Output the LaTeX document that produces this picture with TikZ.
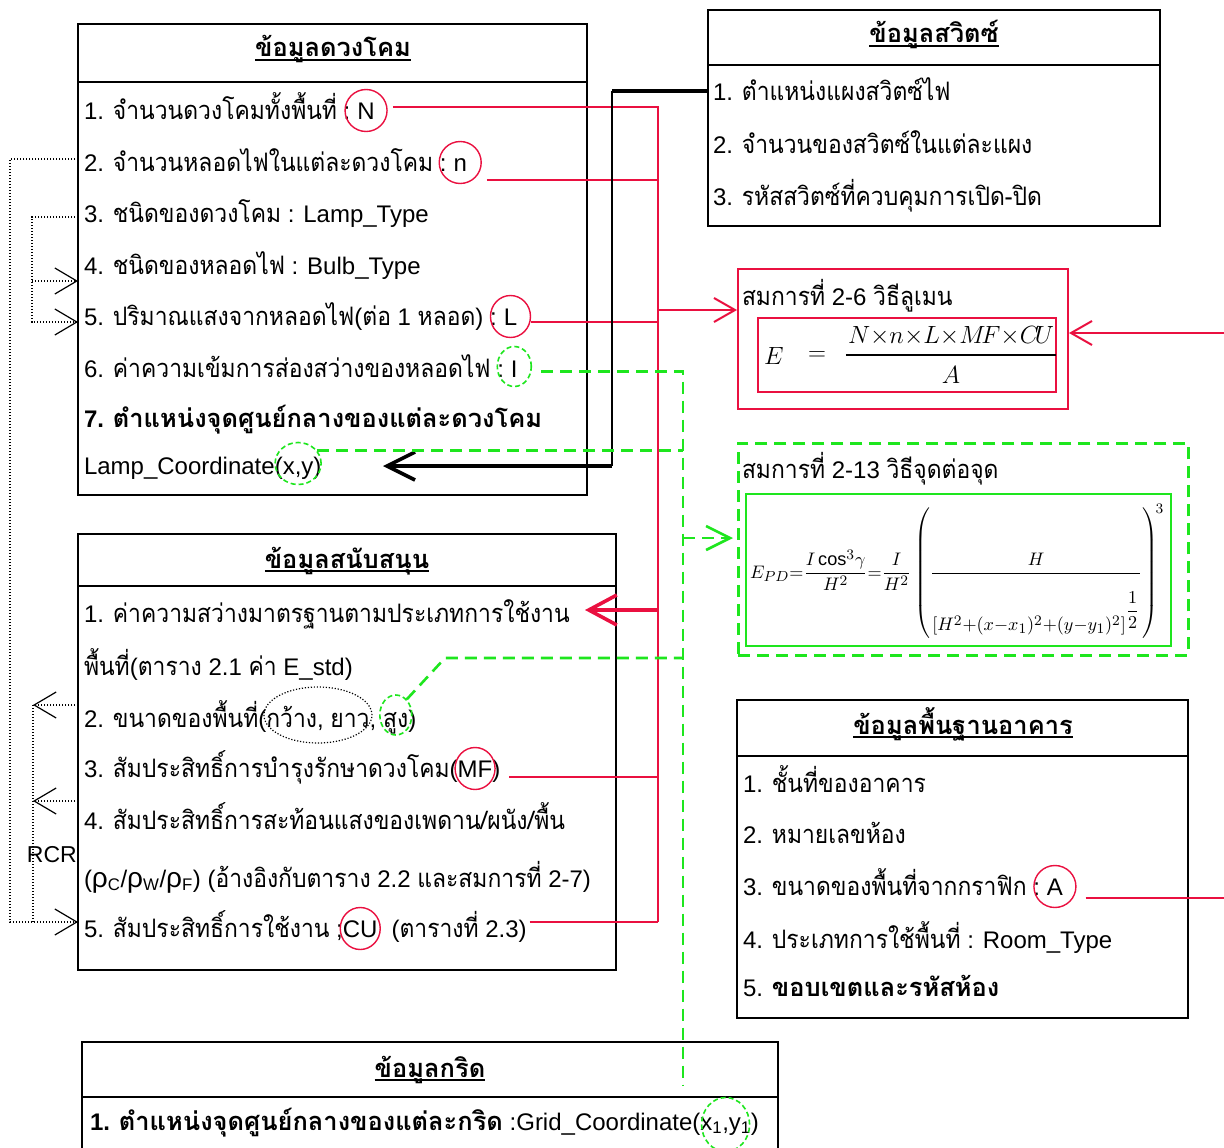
\documentclass[tikz,border=0pt]{standalone}
\usepackage{fontspec}
\usepackage{amsmath}
\usepackage{graphicx}
\setmainfont{Liberation Sans}
\newfontfamily\thaifont[Script=Thai, Scale=1.06, FakeStretch=0.9, BoldFeatures={FakeStretch=1.0}]{Loma}
\newcommand\tx[1]{{\thaifont #1}}
\DeclareMathSizes{10}{10}{8.5}{6.5}
\usetikzlibrary{arrows.meta,shapes.geometric,calc}
\definecolor{rc}{RGB}{234,16,64}
\definecolor{gc}{RGB}{30,230,30}
\tikzset{
  boxn/.style={draw=black, line width=2pt, anchor=north west, inner sep=0pt, outer sep=0pt},
  txt/.style={inner sep=0pt, outer sep=0pt, anchor=base west, font=\fontsize{24}{28}\selectfont},
  ttl/.style={inner sep=0pt, outer sep=0pt, anchor=base, font=\fontsize{24}{28}\selectfont\bfseries},
  var/.style={txt, text height=17pt, text depth=0pt},
  rcirc/.style={draw=rc, line width=1.4pt, ellipse, inner sep=0pt},
  gcirc/.style={draw=gc, line width=1.6pt, ellipse, inner sep=0pt, dash pattern=on 5pt off 3pt},
  kcirc/.style={draw=black, line width=1.2pt, ellipse, inner sep=0pt, dash pattern=on 1.2pt off 1.8pt},
  redl/.style={draw=rc, line width=2pt},
  grnl/.style={draw=gc, line width=2.6pt, dash pattern=on 12pt off 7pt},
  dotl/.style={draw=black, line width=1.2pt, dash pattern=on 1.2pt off 1.8pt},
  barbA/.style={-{Straight Barb[length=22pt,width=26pt]}},
  uline/.style={line width=1.4pt},
  hdr/.style={line width=2pt},
}
\begin{document}
\begin{tikzpicture}[x=1pt,y=-1pt]
\useasboundingbox (0,0) rectangle (1224,1148);
\fill[white] (0,0) rectangle (1224,1148);

% ---------------- Lamp box
\node[boxn, minimum width=509pt, minimum height=471pt] (lamp) at (78,24) {};
\draw[hdr] ($(lamp.north west)+(0,58)$) -- ($(lamp.north east)+(0,58)$);
\node[ttl] (lampT) at (333,57) {\tx{ข้อมูลดวงโคม}};
\draw[uline] ($(lampT.base west)+(0,3)$) -- ($(lampT.base east)+(0,3)$);
\node[txt] (l1) at (84,119) {1. \tx{จำนวนดวงโคมทั้งพื้นที่} :};
\node[var] (vN) at ($(l1.base east)+(7,0)$) {N};
\node[rcirc, minimum width=42pt, minimum height=42pt] (cN) at (vN.center) {};
\node[txt] (l2) at (84,171) {2. \tx{จำนวนหลอดไฟในแต่ละดวงโคม} :};
\node[var] (vn) at ($(l2.base east)+(7,0)$) {n};
\node[rcirc, minimum width=42pt, minimum height=42pt] (cn) at (vn.center) {};
\node[txt] (l3) at (84,222) {3. \tx{ชนิดของดวงโคม} : Lamp\_Type};
\node[txt] (l4) at (84,274) {4. \tx{ชนิดของหลอดไฟ} : Bulb\_Type};
\node[txt] (l5) at (84,325) {5. \tx{ปริมาณแสงจากหลอดไฟ}(\tx{ต่อ} 1 \tx{หลอด}) :};
\node[var] (vL) at ($(l5.base east)+(7,0)$) {L};
\node[rcirc, minimum width=40pt, minimum height=42pt] (cL) at (vL.center) {};
\node[txt] (l6) at (84,377) {6. \tx{ค่าความเข้มการส่องสว่างของหลอดไฟ} :};
\node[var] (vI) at ($(l6.base east)+(7,0)$) {I};
\node[gcirc, minimum width=34pt, minimum height=40pt] (cI) at ($(vI.center)+(0,-2)$) {};
\node[txt] (l7) at (84,427) {\bfseries 7. \tx{ตำแหน่งจุดศูนย์กลางของแต่ละดวงโคม}};
\node[txt] (l8a) at (84,474) {Lamp\_Coordinate(};
\node[var] (vxy) at (l8a.base east) {x,y};
\node[txt] (l8c) at (vxy.base east) {)};
\node[gcirc, minimum width=46pt, minimum height=42pt] (cxy) at ($(vxy.center)+(0,-2)$) {};

% ---------------- Switch box
\node[boxn, minimum width=452pt, minimum height=216pt] (sw) at (708,10) {};
\draw[hdr] ($(sw.north west)+(0,55)$) -- ($(sw.north east)+(0,55)$);
\node[ttl] (swT) at (934,43) {\tx{ข้อมูลสวิตซ์}};
\draw[uline] ($(swT.base west)+(0,3)$) -- ($(swT.base east)+(0,3)$);
\node[txt] (w1) at (713,100) {1. \tx{ตำแหน่งแผงสวิตซ์ไฟ}};
\node[txt] (w2) at (713,153) {2. \tx{จำนวนของสวิตซ์ในแต่ละแผง}};
\node[txt] (w3) at (713,205) {3. \tx{รหัสสวิตซ์ที่ควบคุมการเปิด-ปิด}};

% ---------------- Lumen method
\node[draw=rc, line width=2pt, anchor=north west, inner sep=0pt, minimum width=330pt, minimum height=140pt] (lum) at (737,268) {};
\node[txt] (lumT) at (742,305) {\tx{สมการที่} 2-6 \tx{วิธีลูเมน}};
\node[draw=rc, line width=2pt, anchor=north west, inner sep=0pt, minimum width=298pt, minimum height=74pt] (lumI) at (757,317) {};
\node[inner sep=0pt, anchor=base west] (eqE) at (764,364) {\fontsize{29}{29}\selectfont$E$};
\node[inner sep=0pt] (eqEq) at (817,356) {\fontsize{28}{28}\selectfont$=$};
\node[inner sep=0pt, anchor=base] (eqN) at (951,343) {\fontsize{25}{25}\selectfont$N{\times}n{\times}L{\times}M\!F{\times}C\!U$};
\draw[line width=1.3pt] ($(eqN.base west)+(-2,12)$) -- ($(eqN.base east)+(2,12)$);
\node[inner sep=0pt, anchor=base] (eqA) at (951,383) {\fontsize{26}{26}\selectfont$A$};

% ---------------- Point-to-point method
\node[draw=gc, line width=2.6pt, dash pattern=on 12pt off 7pt, anchor=north west, inner sep=0pt, minimum width=450pt, minimum height=212pt] (ptp) at (737,442) {};
\node[txt] (ptpT) at (742,478) {\tx{สมการที่} 2-13 \tx{วิธีจุดต่อจุด}};
\node[draw=gc, line width=2.4pt, anchor=north west, inner sep=0pt, minimum width=425pt, minimum height=152pt] (ptpI) at (745,493) {};
\node[inner sep=0pt, anchor=base west] (eqP) at (750,578) {\resizebox{414pt}{!}{$\displaystyle E_{PD}{=}\frac{I\cos^3\!\gamma}{H^2}{=}\frac{I}{H^2}\left(\rule[-33.5pt]{0pt}{72pt}\frac{H}{\rule{0pt}{30pt}[H^2{+}(x{-}x_1)^2{+}(y{-}y_1)^2]^{\dfrac{1}{2}}}\right)^{\!3}$}};

% ---------------- Support box
\node[boxn, minimum width=538pt, minimum height=436pt] (sup) at (78,534) {};
\draw[hdr] ($(sup.north west)+(0,52)$) -- ($(sup.north east)+(0,52)$);
\node[ttl] (supT) at (347,568) {\tx{ข้อมูลสนับสนุน}};
\draw[uline] ($(supT.base west)+(0,3)$) -- ($(supT.base east)+(0,3)$);
\node[txt] (s1) at (84,622) {1. \tx{ค่าความสว่างมาตรฐานตามประเภทการใช้งาน}};
\node[txt] (s1b) at (84,675) {\tx{พื้นที่}(\tx{ตาราง} 2.1 \tx{ค่า} E\_std)};
\node[txt] (s2a) at (84,727) {2. \tx{ขนาดของพื้นที่}(};
\node[txt] (s2b) at (s2a.base east) {\tx{กว้าง}, \tx{ยาว}};
\node[txt] (s2c) at (s2b.base east) {,};
\node[txt] (s2d) at ($(s2c.base east)+(7,0)$) {\tx{สูง}};
\node[txt] (s2e) at (s2d.base east) {)};
\node[kcirc, minimum width=108pt, minimum height=56pt] (cWL) at ($(s2b.base)+(0,-12)$) {};
\node[gcirc, minimum width=32pt, minimum height=40pt] (cS) at ($(s2d.base)+(0,-12)$) {};
\node[txt] (s3a) at (84,777) {3. \tx{สัมประสิทธิ์การบำรุงรักษาดวงโคม}(};
\node[var] (vMF) at (s3a.base east) {MF};
\node[txt] (s3c) at (vMF.base east) {)};
\node[rcirc, minimum width=40pt, minimum height=42pt] (cMF) at (vMF.center) {};
\node[txt] (s4) at (84,829) {4. \tx{สัมประสิทธิ์การสะท้อนแสงของเพดาน/ผนัง/พื้น}};
\node[txt] (s4b) at (84,887) {({\fontsize{28}{28}\selectfont ρ}\textsubscript{C}/{\fontsize{28}{28}\selectfont ρ}\textsubscript{W}/{\fontsize{28}{28}\selectfont ρ}\textsubscript{F}) (\tx{อ้างอิงกับตาราง} 2.2 \tx{และสมการที่} 2-7)};
\node[txt] (s5a) at (84,937) {5. \tx{สัมประสิทธิ์การใช้งาน} ;};
\node[var] (vCU) at (s5a.base east) {CU};
\node[rcirc, minimum width=40pt, minimum height=42pt] (cCU) at (vCU.center) {};
\node[txt] (s5c) at ($(vCU.base east)+(14,0)$) {(\tx{ตารางที่} 2.3)};

% ---------------- Building box
\node[boxn, minimum width=451pt, minimum height=318pt] (bld) at (737,700) {};
\draw[hdr] ($(bld.north west)+(0,56)$) -- ($(bld.north east)+(0,56)$);
\node[ttl] (bldT) at (963,734) {\tx{ข้อมูลพื้นฐานอาคาร}};
\draw[uline] ($(bldT.base west)+(0,3)$) -- ($(bldT.base east)+(0,3)$);
\node[txt] (b1) at (743,792) {1. \tx{ชั้นที่ของอาคาร}};
\node[txt] (b2) at (743,843) {2. \tx{หมายเลขห้อง}};
\node[txt] (b3) at (743,895) {3. \tx{ขนาดของพื้นที่จากกราฟิก} :};
\node[var] (vA) at ($(b3.base east)+(7,0)$) {A};
\node[rcirc, minimum width=42pt, minimum height=42pt] (cA) at (vA.center) {};
\node[txt] (b4) at (743,948) {4. \tx{ประเภทการใช้พื้นที่} : Room\_Type};
\node[txt] (b5) at (743,996) {5. \textbf{\tx{ขอบเขตและรหัสห้อง}}};

% ---------------- Grid box
\begin{scope}
\clip (0,0) rectangle (1224,1148);
\node[boxn, minimum width=696pt, minimum height=140pt] (grd) at (82,1042) {};
\end{scope}
\draw[hdr] ($(grd.north west)+(0,55)$) -- ($(grd.north east)+(0,55)$);
\node[ttl] (grdT) at (430,1077) {\tx{ข้อมูลกริด}};
\draw[uline] ($(grdT.base west)+(0,3)$) -- ($(grdT.base east)+(0,3)$);
\node[txt] (g1a) at (90,1130) {\textbf{1. \tx{ตำแหน่งจุดศูนย์กลางของแต่ละกริด}} :Grid\_Coordinate(};
\node[var] (vg) at (g1a.base east) {x\textsubscript{1},y\textsubscript{1}};
\node[txt] (g1c) at (vg.base east) {)};
\node[gcirc, minimum width=48pt, minimum height=54pt] (cg) at ($(vg.center)+(0,3)$) {};

% ---------------- Red connectors
\coordinate (rbT) at (658,106);
\path ($(s5c.base east)+(3,-15)$) coordinate (pCU);
\draw[redl] ($(cN.east)+(5,-4)$) -| (pCU -| rbT);
\path ($(cn.east)+(5,17)$) coordinate (pn);
\draw[redl] (pn) -- (pn -| rbT);
\path ($(cL.east)+(0,5)$) coordinate (pL);
\draw[redl] (pL) -- (pL -| rbT);
\path ($(s3c.base east)+(9,0)$) coordinate (pMF);
\draw[redl] (pMF) -- (pMF -| rbT);
\draw[redl] (pCU) -- (pCU -| rbT);
\coordinate (pLum) at (658,310);
\draw[redl, -{Straight Barb[length=21pt,width=24pt]}] (pLum) -- (pLum -| lum.west);
\coordinate (pSup) at (658,610);
\coordinate (tSup) at (585,610);
\draw[draw=rc, line width=3.6pt, -{Straight Barb[length=28pt,width=30pt]}] (pSup) -- (tSup);
\path ($(cA.east)+(9,11)$) coordinate (pA);
\coordinate (eA) at (1224,898);
\draw[redl] (pA) -- (pA -| eA);
\coordinate (eL) at (1224,333);
\draw[redl, -{Straight Barb[length=21pt,width=24pt]}] (eL) -- (eL -| lum.east);

% ---------------- Black connector
\coordinate (bk1) at (612,91);
\coordinate (bk2) at (612,466);
\coordinate (bkT) at (383,466);
\draw[line width=3.6pt] ($(sw.north west)+(0,81)$) -- (bk1);
\draw[line width=2pt] (bk1) -- (bk2);
\draw[line width=3.6pt, -{Straight Barb[length=28pt,width=28pt]}] (bk2) -- (bkT);

% ---------------- Green connectors
\coordinate (gB) at (683,1085);
\path ($(cI.east)+(9,5)$) coordinate (pI);
\draw[grnl] (pI) -- (pI -| gB) -- (gB);
\draw[grnl] (cxy.35) -- (cxy.35 -| gB);
\coordinate (gD) at (445,658);
\draw[grnl] (cS.55) -- (gD) -- (gD -| gB);
\coordinate (pG) at (683,538);
\draw[grnl, -{Straight Barb[length=24pt,width=24pt]}] (pG) -- ($(pG -| ptp.west)+(-4,0)$);

% ---------------- Dotted connectors (left)
\coordinate (dA) at (10,159);
\coordinate (dB) at (10,922);
\draw[dotl, barbA] ($(lamp.north west)+(0,135)$) -- (dA) -- (dB) -- ($(sup.north west)+(0,388)$);
\coordinate (dC) at (32,217);
\coordinate (dD) at (32,322);
\coordinate (dE) at (32,281);
\draw[dotl, barbA] ($(lamp.north west)+(0,193)$) -- (dC) -- (dD) -- ($(lamp.north west)+(0,298)$);
\draw[dotl, barbA] (dE) -- ($(lamp.north west)+(0,257)$);
\coordinate (dF) at (33,705);
\coordinate (dG) at (33,801);
\coordinate (dH) at (33,922);
\draw[dotl, barbA] ($(sup.north west)+(0,171)$) -- (dF);
\draw[dotl, barbA] ($(sup.north west)+(0,267)$) -- (dG);
\draw[dotl] (dF) -- (dH);
\node[txt, font=\fontsize{23}{26}\selectfont] (rcr) at (27,862) {RCR};
\end{tikzpicture}
\end{document}
